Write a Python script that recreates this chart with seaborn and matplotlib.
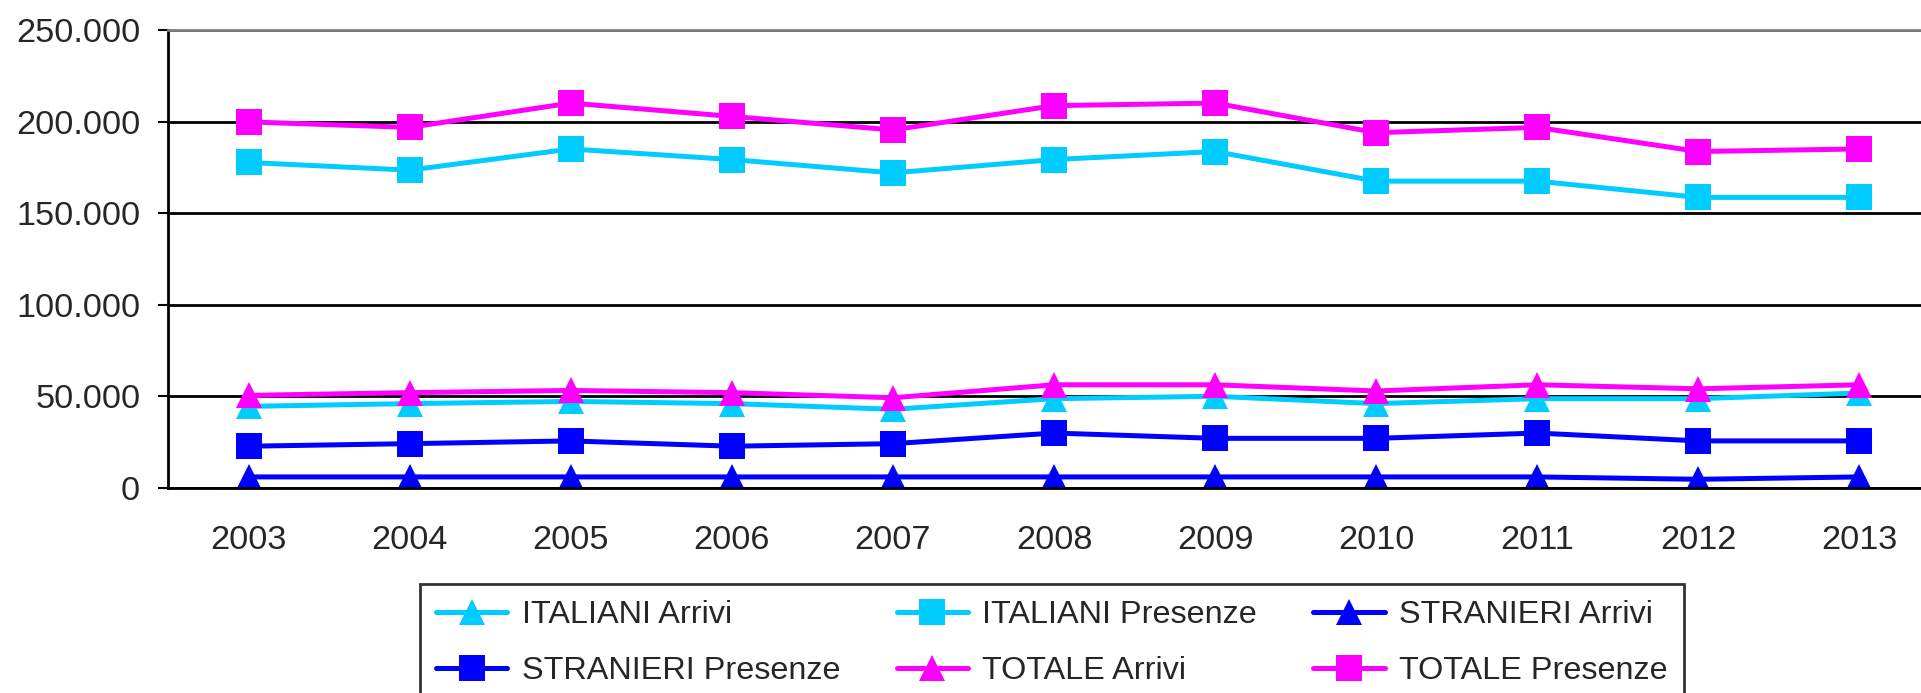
import pandas as pd
import numpy as np
import matplotlib
matplotlib.use("Agg")
import matplotlib.pyplot as plt
import matplotlib.ticker as mticker
import seaborn as sns

sns.set_style("white")
plt.rcParams['font.family'] = ['Liberation Sans', 'DejaVu Sans']

# dati
anni = [2003, 2004, 2005, 2006, 2007, 2008, 2009, 2010, 2011, 2012, 2013]
italiani_arrivi = [44400, 45900, 47100, 45900, 42800, 48600, 49900, 45900, 48600, 48600, 51700]
italiani_presenze = [177800, 173600, 185200, 179400, 172100, 179400, 183800, 167600, 167600, 158700, 158700]
stranieri_arrivi = [5800, 5800, 5800, 5800, 5800, 5800, 5800, 5800, 5800, 4500, 5800]
stranieri_presenze = [22600, 24000, 25500, 22600, 24000, 29800, 26900, 26900, 29800, 25500, 25500]
totale_arrivi = [50400, 51900, 53100, 51900, 49100, 56200, 56200, 52800, 56200, 54000, 56200]
totale_presenze = [200000, 197000, 210300, 203000, 195600, 208900, 210300, 194100, 197000, 183800, 185200]

serie = ['ITALIANI Arrivi', 'ITALIANI Presenze', 'STRANIERI Arrivi',
         'STRANIERI Presenze', 'TOTALE Arrivi', 'TOTALE Presenze']
valori = [italiani_arrivi, italiani_presenze, stranieri_arrivi,
          stranieri_presenze, totale_arrivi, totale_presenze]
colori = {'ITALIANI Arrivi': '#00CCFF', 'ITALIANI Presenze': '#00CCFF',
          'STRANIERI Arrivi': '#0000FF', 'STRANIERI Presenze': '#0000FF',
          'TOTALE Arrivi': '#FF00FF', 'TOTALE Presenze': '#FF00FF'}
marker = {s: ('^' if 'Arrivi' in s else 's') for s in serie}

df = pd.DataFrame({
    'anno': np.tile(anni, len(serie)),
    'valore': np.concatenate(valori),
    'serie': np.repeat(serie, len(anni)),
})

fig = plt.figure(figsize=(19.21, 6.93), dpi=100)
ax = fig.add_axes([168 / 1921, 0.2965, (1940 - 168) / 1921, 0.956 - 0.2965])

sns.lineplot(data=df, x='anno', y='valore', hue='serie', style='serie',
             hue_order=serie, style_order=serie, palette=colori,
             markers=marker, dashes=False, linewidth=3.6, markersize=19,
             markeredgewidth=0, legend=False, ax=ax)

ax.set_xlim(2002.5, 2013.5)
ax.set_ylim(0, 250000)
ax.set_xlabel('')
ax.set_ylabel('')

# assi e griglia
ax.set_axisbelow(True)
ax.yaxis.set_major_locator(mticker.MultipleLocator(50000))
ax.yaxis.set_major_formatter(mticker.FuncFormatter(lambda v, p: f"{int(v):,}".replace(',', '.')))
ax.yaxis.grid(True, color='black', linewidth=2)
ax.set_xticks(anni)
ax.set_xticks(np.arange(2002.5, 2014, 1), minor=True)
ax.tick_params(axis='x', which='major', length=0, pad=27, labelsize=24.7)
ax.tick_params(axis='x', which='minor', length=7, width=1.5, color='black', direction='out')
ax.tick_params(axis='y', length=7, width=1.5, color='black', direction='out', pad=13, labelsize=24.7, left=True)
for s in ['left', 'bottom']:
    ax.spines[s].set_color('black')
    ax.spines[s].set_linewidth(2)
ax.spines['top'].set_color('#808080')
ax.spines['top'].set_linewidth(2)
ax.spines['right'].set_visible(False)

# legenda (riempita per righe come in Excel)
ordine = [0, 3, 1, 4, 2, 5]
handles = [ax.lines[i] for i in ordine]
etichette = [serie[i] for i in ordine]
leg = fig.legend(handles, etichette, loc='upper left', ncol=3,
                 bbox_to_anchor=(420 / 1921, 1 - 584 / 693, 1264 / 1921, 0),
                 mode='expand', fontsize=23.3, frameon=True, fancybox=False,
                 edgecolor='black', handlelength=2.2, handletextpad=0.45,
                 labelspacing=0.8, borderpad=0.5, borderaxespad=0)
leg.get_frame().set_linewidth(2)

fig.savefig('out.png', dpi=100)
